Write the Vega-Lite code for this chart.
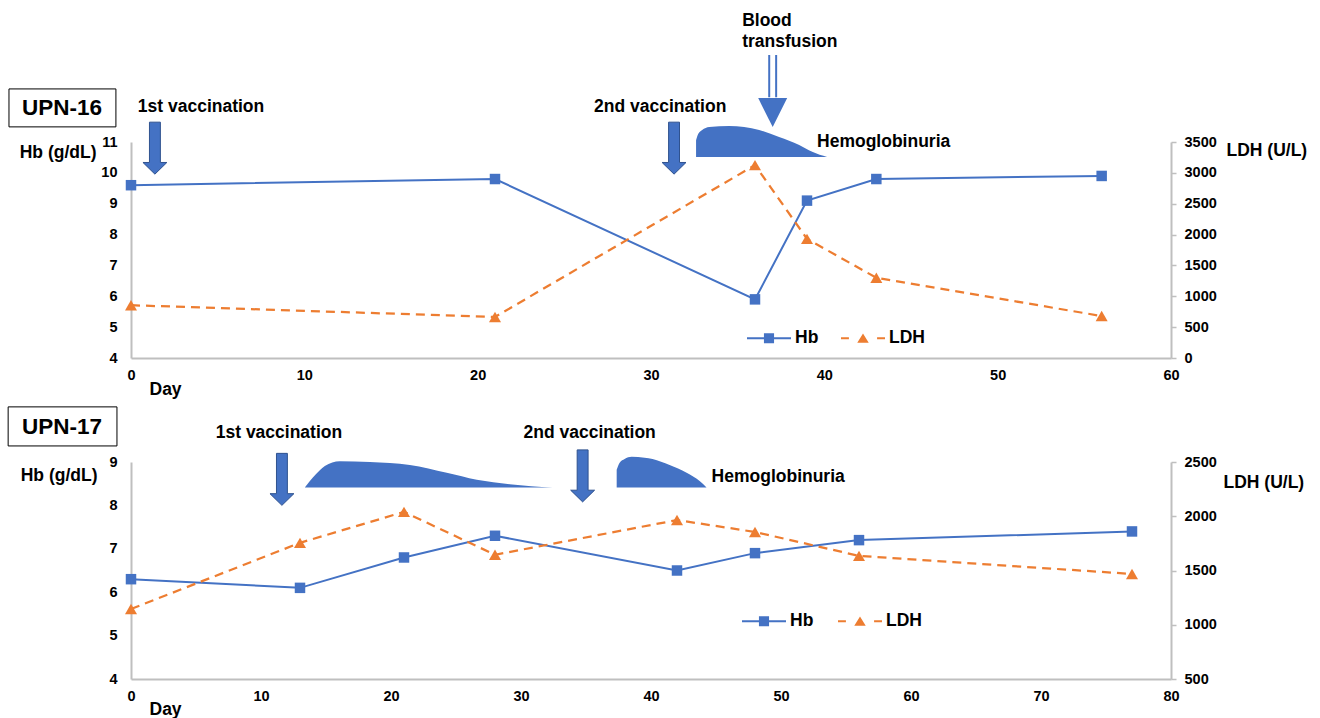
{
  "$schema": "https://vega.github.io/schema/vega-lite/v6.json",
  "padding": {"left": 7, "top": 12, "right": 4, "bottom": 0},
  "spacing": 104,
  "bounds": "flush",
  "resolve": {"scale": {"color": "independent", "shape": "independent"}, "legend": {"color": "independent", "shape": "independent"}},
  "config": {
    "view": {"stroke": null},
    "axis": {"domainColor": "#BFBFBF", "domainWidth": 2, "ticks": false, "grid": false, "labelFont": "Liberation Sans", "labelFontSize": 14.5, "labelFontWeight": "bold", "labelColor": "#000", "titleFont": "Liberation Sans", "titleFontSize": 17.5, "titleFontWeight": "bold", "titleColor": "#000", "labelOverlap": false, "labelFlush": false, "format": "d"},
    "legend": {"orient": "none", "direction": "horizontal", "title": null, "symbolSize": 1936, "labelFont": "Liberation Sans", "labelFontSize": 17.5, "labelFontWeight": "bold", "labelColor": "#000", "labelOffset": 4, "symbolStrokeWidth": 0},
    "text": {"font": "Liberation Sans", "fontWeight": "bold", "fontSize": 17.5, "color": "#000", "baseline": "middle"}
  },
  "vconcat": [
    {
      "width": 1040,
      "height": 216,
      "layer": [
        {
          "layer": [
            {
              "data": {"values": [
                {"day": 0, "hb": 9.6}, {"day": 21, "hb": 9.8}, {"day": 36, "hb": 5.9},
                {"day": 39, "hb": 9.1}, {"day": 43, "hb": 9.8}, {"day": 56, "hb": 9.9}
              ]},
              "layer": [
                {
                  "mark": {"type": "line", "color": "#4472C4", "strokeWidth": 2},
                  "encoding": {
                    "x": {"field": "day", "type": "quantitative", "scale": {"domain": [0, 60], "nice": false, "zero": false},
                      "axis": {"values": [0, 10, 20, 30, 40, 50, 60], "format": "d", "labelOverlap": false, "title": "Day", "titleAngle": 0, "titleAlign": "left", "titleBaseline": "middle", "titleX": 18, "titleY": 31, "labelPadding": 10}},
                    "y": {"field": "hb", "type": "quantitative", "scale": {"domain": [4, 11], "nice": false, "zero": false},
                      "axis": {"values": [4, 5, 6, 7, 8, 9, 10, 11], "tickCount": 8, "format": "d", "labelOverlap": false, "title": "Hb (g/dL)", "titleAngle": 0, "titleAlign": "right", "titleBaseline": "middle", "titleX": -35, "titleY": 10, "labelPadding": 14}}
                  }
                },
                {
                  "mark": {"type": "point", "shape": "square", "filled": true, "size": 110, "opacity": 1, "color": "#4472C4"},
                  "encoding": {"x": {"field": "day", "type": "quantitative"}, "y": {"field": "hb", "type": "quantitative"}}
                }
              ]
            },
            {
              "data": {"values": [{"series": "Hb"}, {"series": "LDH"}]},
              "transform": [{"filter": "datum.series === 'none'"}],
              "mark": {"type": "point", "filled": true, "opacity": 1},
              "encoding": {
                "color": {"field": "series", "type": "nominal", "scale": {"domain": ["Hb", "LDH"], "range": ["#4472C4", "#ED7D31"]}, "legend": {"legendX": 616, "legendY": 174, "columnPadding": 22}},
                "shape": {"field": "series", "type": "nominal", "scale": {"domain": ["Hb", "LDH"], "range": ["M-1,-0.045L1,-0.045L1,0.045L-1,0.045Z M-0.23,-0.23L0.23,-0.23L0.23,0.23L-0.23,0.23Z", "M-1,-0.05L-0.64,-0.05L-0.64,0.05L-1,0.05Z M0.64,-0.05L1,-0.05L1,0.05L0.64,0.05Z M0,-0.22L0.26,0.2L-0.26,0.2Z"]}, "legend": {"legendX": 616, "legendY": 174, "columnPadding": 22}}
              }
            },
            {
              "data": {"values": [{"day": -7.04, "day2": -0.87, "hb": 12.72, "hb2": 11.49}]},
              "mark": {"type": "rect", "fill": "#FFFFFF", "stroke": "#000000", "strokeWidth": 1},
              "encoding": {"x": {"field": "day", "type": "quantitative"}, "x2": {"field": "day2"}, "y": {"field": "hb", "type": "quantitative"}, "y2": {"field": "hb2"}}
            },
            {
              "data": {"values": [{"day": -3.98, "hb": 12.1, "label": "UPN-16"}]},
              "mark": {"type": "text", "fontSize": 22.5, "align": "center"},
              "encoding": {"x": {"field": "day", "type": "quantitative"}, "y": {"field": "hb", "type": "quantitative"}, "text": {"field": "label"}}
            },
            {
              "data": {"values": [{"day": 4.04, "hb": 12.13, "label": "1st vaccination"}, {"day": 30.53, "hb": 12.13, "label": "2nd vaccination"}]},
              "mark": {"type": "text", "align": "center"},
              "encoding": {"x": {"field": "day", "type": "quantitative"}, "y": {"field": "hb", "type": "quantitative"}, "text": {"field": "label"}}
            },
            {
              "data": {"values": [{"day": 35.26, "hb": 14.92, "label": "Blood"}, {"day": 35.26, "hb": 14.24, "label": "transfusion"}, {"day": 39.58, "hb": 11.0, "label": "Hemoglobinuria"}]},
              "mark": {"type": "text", "align": "left"},
              "encoding": {"x": {"field": "day", "type": "quantitative"}, "y": {"field": "hb", "type": "quantitative"}, "text": {"field": "label"}}
            },
            {
              "data": {"values": [
                {"day": 32.6, "hb": 11.06}, {"day": 32.72, "hb": 11.26}, {"day": 32.95, "hb": 11.39}, {"day": 33.36, "hb": 11.49},
                {"day": 34.51, "hb": 11.52}, {"day": 36.24, "hb": 11.39}, {"day": 37.39, "hb": 11.16}, {"day": 38.55, "hb": 10.9},
                {"day": 39.3, "hb": 10.68}, {"day": 40.16, "hb": 10.51}
              ]},
              "mark": {"type": "area", "orient": "vertical", "interpolate": "monotone", "color": "#4472C4", "opacity": 1},
              "encoding": {"x": {"field": "day", "type": "quantitative"}, "y": {"field": "hb", "type": "quantitative"}, "y2": {"datum": 10.51}}
            },
            {
              "data": {"values": [{"day": 1.38, "hb": 10.8}, {"day": 31.33, "hb": 10.8}]},
              "mark": {"type": "point", "filled": true, "opacity": 1, "size": 2704, "shape": "M-0.21,-1L0.21,-1L0.21,0.55L0.46,0.55L0,1L-0.46,0.55L-0.21,0.55Z", "fill": "#4472C4", "stroke": "#2F528F", "strokeWidth": 1},
              "encoding": {"x": {"field": "day", "type": "quantitative"}, "y": {"field": "hb", "type": "quantitative"}}
            },
            {
              "data": {"values": [{"day": 36.82, "hb": 13.82, "hb2": 12.45}, {"day": 37.22, "hb": 13.82, "hb2": 12.45}]},
              "mark": {"type": "rule", "color": "#4472C4", "strokeWidth": 2},
              "encoding": {"x": {"field": "day", "type": "quantitative"}, "y": {"field": "hb", "type": "quantitative"}, "y2": {"field": "hb2"}}
            },
            {
              "data": {"values": [{"day": 37.02, "hb": 11.955}]},
              "mark": {"type": "point", "filled": true, "opacity": 1, "size": 841, "shape": "M-1,-1L1,-1L0,1Z", "fill": "#4472C4", "strokeWidth": 0},
              "encoding": {"x": {"field": "day", "type": "quantitative"}, "y": {"field": "hb", "type": "quantitative"}}
            }
          ]
        },
        {
          "data": {"values": [
            {"day": 0, "ldh": 855}, {"day": 21, "ldh": 665}, {"day": 36, "ldh": 3125},
            {"day": 39, "ldh": 1930}, {"day": 43, "ldh": 1300}, {"day": 56, "ldh": 680}
          ]},
          "layer": [
            {
              "mark": {"type": "line", "color": "#ED7D31", "strokeWidth": 2.25, "strokeDash": [9, 6]},
              "encoding": {
                "x": {"field": "day", "type": "quantitative"},
                "y": {"field": "ldh", "type": "quantitative", "scale": {"domain": [0, 3500], "nice": false, "zero": false},
                  "axis": {"orient": "right", "values": [0, 500, 1000, 1500, 2000, 2500, 3000, 3500], "tickCount": 8, "format": "d", "labelOverlap": false, "ticks": true, "tickColor": "#BFBFBF", "tickSize": 5, "tickWidth": 1.5, "labelPadding": 8, "title": "LDH (U/L)", "titleAngle": 0, "titleAlign": "left", "titleBaseline": "middle", "titleX": 55, "titleY": 8}}
              }
            },
            {
              "mark": {"type": "point", "shape": "triangle-up", "filled": true, "size": 144, "opacity": 1, "color": "#ED7D31"},
              "encoding": {"x": {"field": "day", "type": "quantitative"}, "y": {"field": "ldh", "type": "quantitative"}}
            }
          ]
        }
      ],
      "resolve": {"scale": {"y": "independent"}}
    },
    {
      "width": 1040,
      "height": 217,
      "layer": [
        {
          "layer": [
            {
              "data": {"values": [
                {"day": 0, "hb": 6.3}, {"day": 13, "hb": 6.1}, {"day": 21, "hb": 6.8},
                {"day": 28, "hb": 7.3}, {"day": 42, "hb": 6.5}, {"day": 48, "hb": 6.9},
                {"day": 56, "hb": 7.2}, {"day": 77, "hb": 7.4}
              ]},
              "layer": [
                {
                  "mark": {"type": "line", "color": "#4472C4", "strokeWidth": 2},
                  "encoding": {
                    "x": {"field": "day", "type": "quantitative", "scale": {"domain": [0, 80], "nice": false, "zero": false},
                      "axis": {"values": [0, 10, 20, 30, 40, 50, 60, 70, 80], "format": "d", "labelOverlap": false, "title": "Day", "titleAngle": 0, "titleAlign": "left", "titleBaseline": "middle", "titleX": 18, "titleY": 30, "labelPadding": 10}},
                    "y": {"field": "hb", "type": "quantitative", "scale": {"domain": [4, 9], "nice": false, "zero": false},
                      "axis": {"values": [4, 5, 6, 7, 8, 9], "tickCount": 6, "format": "d", "labelOverlap": false, "title": "Hb (g/dL)", "titleAngle": 0, "titleAlign": "right", "titleBaseline": "middle", "titleX": -34, "titleY": 13, "labelPadding": 14}}
                  }
                },
                {
                  "mark": {"type": "point", "shape": "square", "filled": true, "size": 110, "opacity": 1, "color": "#4472C4"},
                  "encoding": {"x": {"field": "day", "type": "quantitative"}, "y": {"field": "hb", "type": "quantitative"}}
                }
              ]
            },
            {
              "data": {"values": [{"series": "Hb"}, {"series": "LDH"}]},
              "transform": [{"filter": "datum.series === 'none'"}],
              "mark": {"type": "point", "filled": true, "opacity": 1},
              "encoding": {
                "color": {"field": "series", "type": "nominal", "scale": {"domain": ["Hb", "LDH"], "range": ["#4472C4", "#ED7D31"]}, "legend": {"legendX": 611, "legendY": 137, "columnPadding": 24}},
                "shape": {"field": "series", "type": "nominal", "scale": {"domain": ["Hb", "LDH"], "range": ["M-1,-0.045L1,-0.045L1,0.045L-1,0.045Z M-0.23,-0.23L0.23,-0.23L0.23,0.23L-0.23,0.23Z", "M-1,-0.05L-0.64,-0.05L-0.64,0.05L-1,0.05Z M0.64,-0.05L1,-0.05L1,0.05L0.64,0.05Z M0,-0.22L0.26,0.2L-0.26,0.2Z"]}, "legend": {"legendX": 611, "legendY": 137, "columnPadding": 24}}
              }
            },
            {
              "data": {"values": [{"day": -9.45, "day2": -1.08, "hb": 10.27, "hb2": 9.37}]},
              "mark": {"type": "rect", "fill": "#FFFFFF", "stroke": "#000000", "strokeWidth": 1},
              "encoding": {"x": {"field": "day", "type": "quantitative"}, "x2": {"field": "day2"}, "y": {"field": "hb", "type": "quantitative"}, "y2": {"field": "hb2"}}
            },
            {
              "data": {"values": [{"day": -5.3, "hb": 9.81, "label": "UPN-17"}]},
              "mark": {"type": "text", "fontSize": 22.5, "align": "center"},
              "encoding": {"x": {"field": "day", "type": "quantitative"}, "y": {"field": "hb", "type": "quantitative"}, "text": {"field": "label"}}
            },
            {
              "data": {"values": [{"day": 11.38, "hb": 9.67, "label": "1st vaccination"}, {"day": 35.28, "hb": 9.67, "label": "2nd vaccination"}]},
              "mark": {"type": "text", "align": "center"},
              "encoding": {"x": {"field": "day", "type": "quantitative"}, "y": {"field": "hb", "type": "quantitative"}, "text": {"field": "label"}}
            },
            {
              "data": {"values": [{"day": 44.66, "hb": 8.65, "label": "Hemoglobinuria"}]},
              "mark": {"type": "text", "align": "left"},
              "encoding": {"x": {"field": "day", "type": "quantitative"}, "y": {"field": "hb", "type": "quantitative"}, "text": {"field": "label"}}
            },
            {
              "data": {"values": [
                {"day": 13.37, "hb": 8.41, "g": "a"}, {"day": 13.76, "hb": 8.56, "g": "a"}, {"day": 14.22, "hb": 8.72, "g": "a"}, {"day": 14.91, "hb": 8.91, "g": "a"},
                {"day": 16.06, "hb": 9.02, "g": "a"}, {"day": 18.37, "hb": 9.0, "g": "a"}, {"day": 21.45, "hb": 8.93, "g": "a"}, {"day": 24.29, "hb": 8.75, "g": "a"},
                {"day": 26.6, "hb": 8.59, "g": "a"}, {"day": 29.13, "hb": 8.49, "g": "a"}, {"day": 32.44, "hb": 8.41, "g": "a"},
                {"day": 37.36, "hb": 8.82, "g": "b"}, {"day": 37.59, "hb": 8.98, "g": "b"}, {"day": 37.97, "hb": 9.07, "g": "b"}, {"day": 38.51, "hb": 9.12, "g": "b"},
                {"day": 39.51, "hb": 9.1, "g": "b"}, {"day": 40.12, "hb": 9.07, "g": "b"}, {"day": 41.43, "hb": 8.93, "g": "b"}, {"day": 42.74, "hb": 8.75, "g": "b"},
                {"day": 43.74, "hb": 8.56, "g": "b"}, {"day": 44.27, "hb": 8.41, "g": "b"}
              ]},
              "mark": {"type": "area", "orient": "vertical", "interpolate": "monotone", "color": "#4472C4", "opacity": 1},
              "encoding": {"x": {"field": "day", "type": "quantitative"}, "y": {"field": "hb", "type": "quantitative"}, "y2": {"datum": 8.41}, "detail": {"field": "g"}}
            },
            {
              "data": {"values": [{"day": 11.61, "hb": 8.6}, {"day": 34.74, "hb": 8.68}]},
              "mark": {"type": "point", "filled": true, "opacity": 1, "size": 2704, "shape": "M-0.21,-1L0.21,-1L0.21,0.55L0.46,0.55L0,1L-0.46,0.55L-0.21,0.55Z", "fill": "#4472C4", "stroke": "#2F528F", "strokeWidth": 1},
              "encoding": {"x": {"field": "day", "type": "quantitative"}, "y": {"field": "hb", "type": "quantitative"}}
            }
          ]
        },
        {
          "data": {"values": [
            {"day": 0, "ldh": 1145}, {"day": 13, "ldh": 1755}, {"day": 21, "ldh": 2040},
            {"day": 28, "ldh": 1645}, {"day": 42, "ldh": 1965}, {"day": 48, "ldh": 1855},
            {"day": 56, "ldh": 1635}, {"day": 77, "ldh": 1468}
          ]},
          "layer": [
            {
              "mark": {"type": "line", "color": "#ED7D31", "strokeWidth": 2.25, "strokeDash": [9, 6]},
              "encoding": {
                "x": {"field": "day", "type": "quantitative"},
                "y": {"field": "ldh", "type": "quantitative", "scale": {"domain": [500, 2500], "nice": false, "zero": false},
                  "axis": {"orient": "right", "values": [500, 1000, 1500, 2000, 2500], "tickCount": 5, "format": "d", "labelOverlap": false, "ticks": true, "tickColor": "#BFBFBF", "tickSize": 5, "tickWidth": 1.5, "labelPadding": 8, "title": "LDH (U/L)", "titleAngle": 0, "titleAlign": "left", "titleBaseline": "middle", "titleX": 52, "titleY": 20}}
              }
            },
            {
              "mark": {"type": "point", "shape": "triangle-up", "filled": true, "size": 144, "opacity": 1, "color": "#ED7D31"},
              "encoding": {"x": {"field": "day", "type": "quantitative"}, "y": {"field": "ldh", "type": "quantitative"}}
            }
          ]
        }
      ],
      "resolve": {"scale": {"y": "independent"}}
    }
  ]
}
